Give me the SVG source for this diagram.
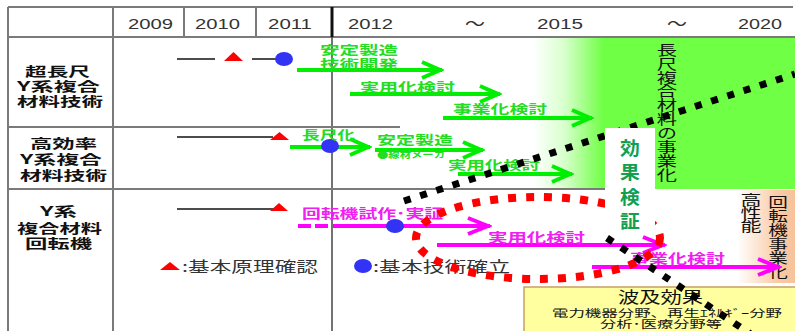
<svg xmlns="http://www.w3.org/2000/svg" width="795" height="331" viewBox="0 0 795 331">
<style>
.yr{font-family:'Liberation Sans',Arial,sans-serif;font-size:15px;fill:#333}
.jp{font-family:'Noto Sans CJK JP','Noto Sans CJK SC',sans-serif}
.lbl{font-size:13px;font-weight:bold;fill:#111}
.g{font-size:12.5px;font-weight:bold;fill:#22DD22}
.m{font-size:13px;font-weight:bold;fill:#F020F0}
.lg{font-size:15px;fill:#333}
.vt{font-size:14px;fill:#111;writing-mode:vertical-rl}
.grid{stroke:#7a7a7a;stroke-width:2;fill:none}
.blk{stroke:#111;stroke-width:1.5}
.ga{stroke:#00EE00;stroke-width:4;fill:none;marker-end:url(#ag)}
.ma{stroke:#FF00FF;stroke-width:4;fill:none}
.tri{fill:#FF0000}
.dot{fill:#3333F5}
.bdot{stroke:#000;stroke-width:7;stroke-dasharray:7 10;fill:none}
.rdot{stroke:#FF0000;stroke-width:8;stroke-dasharray:8 10;fill:none}
</style>
<defs>
<linearGradient id="gg" x1="533" y1="0" x2="795" y2="0" gradientUnits="userSpaceOnUse">
<stop offset="0" stop-color="#FFFFFF"/>
<stop offset="0.12" stop-color="#D8FFCC"/>
<stop offset="0.27" stop-color="#6FFF45"/>
<stop offset="1" stop-color="#6FFF45"/>
</linearGradient>
<linearGradient id="og" x1="737" y1="0" x2="795" y2="0" gradientUnits="userSpaceOnUse">
<stop offset="0" stop-color="#FFFFFF"/>
<stop offset="0.7" stop-color="#F9CBA6"/>
<stop offset="1" stop-color="#F7C29A"/>
</linearGradient>
<marker id="ag" markerUnits="userSpaceOnUse" viewBox="-26 -12 28 24" markerWidth="28" markerHeight="24" refX="0" refY="0" orient="auto">
<path d="M-20,-8 L-2,0 L-20,8" fill="none" stroke="#00EE00" stroke-width="4"/>
</marker>
<marker id="am" markerUnits="userSpaceOnUse" viewBox="-26 -12 28 24" markerWidth="28" markerHeight="24" refX="0" refY="0" orient="auto">
<path d="M-22,-8 L-2,0 L-22,8" fill="none" stroke="#FF00FF" stroke-width="4"/>
</marker>
</defs>
<rect width="795" height="331" fill="#FFFFFF"/>

<!-- background regions -->
<rect id="greenZone" x="533" y="38" width="262" height="151" fill="url(#gg)"/>
<rect id="orangeZone" x="737" y="190" width="58" height="93" fill="url(#og)"/>

<!-- table -->
<g id="table">
<line x1="8" y1="7" x2="793" y2="7" class="grid"/>
<line x1="8" y1="37" x2="795" y2="37" class="grid"/>
<line x1="8" y1="7" x2="8" y2="331" class="grid"/>
<line x1="113" y1="7" x2="113" y2="331" class="grid"/>
<line x1="184" y1="7" x2="184" y2="37" class="grid"/>
<line x1="256" y1="7" x2="256" y2="37" class="grid"/>
<line x1="332" y1="7" x2="332" y2="37" stroke="#111" stroke-width="3"/>
<line x1="332" y1="37" x2="332" y2="331" stroke="#444" stroke-width="1.5"/>
<line x1="8" y1="127" x2="400" y2="127" class="grid"/>
<line x1="8" y1="189" x2="606" y2="189" class="grid"/>
<text class="yr" x="128" y="29" textLength="45" lengthAdjust="spacingAndGlyphs">2009</text>
<text class="yr" x="195" y="29" textLength="45" lengthAdjust="spacingAndGlyphs">2010</text>
<text class="yr" x="268" y="29" textLength="44" lengthAdjust="spacingAndGlyphs">2011</text>
<text class="yr" x="348" y="29" textLength="45" lengthAdjust="spacingAndGlyphs">2012</text>
<text class="jp yr" x="465" y="29" textLength="20" lengthAdjust="spacingAndGlyphs">～</text>
<text class="yr" x="537" y="29" textLength="46" lengthAdjust="spacingAndGlyphs">2015</text>
<text class="jp yr" x="667" y="29" textLength="20" lengthAdjust="spacingAndGlyphs">～</text>
<text class="yr" x="738" y="29" textLength="44" lengthAdjust="spacingAndGlyphs">2020</text>
</g>

<!-- row labels -->
<g id="row1-label">
<text class="jp lbl" x="25" y="76" textLength="65" lengthAdjust="spacingAndGlyphs">超長尺</text>
<text class="jp lbl" x="17" y="91" textLength="83" lengthAdjust="spacingAndGlyphs">Y系複合</text>
<text class="jp lbl" x="17" y="106" textLength="86" lengthAdjust="spacingAndGlyphs">材料技術</text>
</g>
<g id="row2-label">
<text class="jp lbl" x="30" y="148" textLength="67" lengthAdjust="spacingAndGlyphs">高効率</text>
<text class="jp lbl" x="20" y="164" textLength="82" lengthAdjust="spacingAndGlyphs">Y系複合</text>
<text class="jp lbl" x="20" y="180" textLength="87" lengthAdjust="spacingAndGlyphs">材料技術</text>
</g>
<g id="row3-label">
<text class="jp lbl" x="40" y="216" textLength="37" lengthAdjust="spacingAndGlyphs">Y系</text>
<text class="jp lbl" x="17" y="233" textLength="85" lengthAdjust="spacingAndGlyphs">複合材料</text>
<text class="jp lbl" x="25" y="248" textLength="67" lengthAdjust="spacingAndGlyphs">回転機</text>
</g>

<!-- vertical labels -->
<g id="long-business" transform="translate(667 0) scale(1.45 1)">
<text class="jp vt" x="0" y="42.5" letter-spacing="-0.1">長尺複合材料の事業化</text>
</g>
<g id="high-perf" transform="translate(751 0) scale(1.5 1)">
<text class="jp vt" x="0" y="192.5" letter-spacing="-1">高性能</text>
</g>
<g id="rotor-business" transform="translate(778 0) scale(1.4 1)">
<text class="jp vt" x="0" y="194.5">回転機事業化</text>
</g>

<!-- connectors / timeline items -->
<g id="connectors">
<!-- row 1 -->
<line x1="177" y1="59" x2="215" y2="59" class="blk"/>
<line x1="252" y1="59" x2="280" y2="59" class="blk"/>
<line x1="297" y1="70" x2="442" y2="70" class="ga"/>
<line x1="350" y1="94" x2="500" y2="94" class="ga"/>
<line x1="443" y1="118" x2="592" y2="118" class="ga"/>
<!-- row 2 -->
<line x1="177" y1="137" x2="273" y2="137" class="blk"/>
<line x1="290" y1="147" x2="370" y2="147" class="ga"/>
<line x1="375" y1="150" x2="483" y2="150" class="ga"/>
<line x1="458" y1="174" x2="572" y2="174" class="ga"/>
<!-- row 3 -->
<line x1="177" y1="209" x2="273" y2="209" class="blk"/>
<line x1="298" y1="226" x2="311" y2="226" class="ma"/>
<line x1="315" y1="226" x2="328" y2="226" class="ma"/>
<line x1="333" y1="226" x2="490" y2="226" class="ma" marker-end="url(#am)"/>
<line x1="437" y1="245" x2="665" y2="245" class="ma" marker-end="url(#am)"/>
<line x1="592" y1="267" x2="780" y2="267" class="ma" marker-end="url(#am)"/>
</g>

<g id="milestones">
<polygon class="tri" points="224,61 233.5,52 243,61"/>
<ellipse class="dot" cx="284" cy="59" rx="9" ry="7"/>
<polygon class="tri" points="270,140 279.5,132 289,140"/>
<ellipse class="dot" cx="330" cy="146" rx="9" ry="7"/>
<polygon class="tri" points="270,211 279,203 288,211"/>
<ellipse class="dot" cx="395" cy="226" rx="9" ry="7"/>
</g>

<!-- task labels -->
<g id="row1-tasks">
<text class="jp g" x="320" y="55" textLength="78" lengthAdjust="spacingAndGlyphs">安定製造</text>
<text class="jp g" x="320" y="69" textLength="78" lengthAdjust="spacingAndGlyphs">技術開発</text>
<text class="jp g" x="360" y="92" textLength="95" lengthAdjust="spacingAndGlyphs">実用化検討</text>
<text class="jp g" x="453" y="114" textLength="94" lengthAdjust="spacingAndGlyphs">事業化検討</text>
</g>
<g id="row2-tasks">
<text class="jp g" x="302" y="140" textLength="53" lengthAdjust="spacingAndGlyphs">長尺化</text>
<text class="jp g" x="377" y="145" textLength="76" lengthAdjust="spacingAndGlyphs">安定製造</text>
<text class="jp g" x="377" y="158" textLength="68" lengthAdjust="spacingAndGlyphs" style="font-size:9px">●線材メーカ</text>
<text class="jp g" x="448" y="170" textLength="92" lengthAdjust="spacingAndGlyphs">実用化検討</text>
</g>
<g id="row3-tasks">
<text class="jp m" x="302" y="218" textLength="141" lengthAdjust="spacingAndGlyphs">回転機試作･実証</text>
<text class="jp m" x="488" y="242" textLength="97" lengthAdjust="spacingAndGlyphs">実用化検討</text>
<text class="jp m" x="630" y="263" textLength="95" lengthAdjust="spacingAndGlyphs">事業化検討</text>
</g>

<!-- legend -->
<g id="legend">
<polygon class="tri" points="160,270 170,262 180,270"/>
<text class="jp lg" x="182" y="272" textLength="136" lengthAdjust="spacingAndGlyphs">:基本原理確認</text>
<ellipse class="dot" cx="363" cy="266" rx="9" ry="7"/>
<text class="jp lg" x="373" y="272" textLength="137" lengthAdjust="spacingAndGlyphs">:基本技術確立</text>
</g>

<!-- ripple effect box -->
<g id="ripple">
<rect x="524" y="287" width="290" height="60" fill="#FFFF9F" stroke="#C8A060" stroke-width="1.5"/>
<text class="jp" x="618" y="303" font-size="16" fill="#111" textLength="85" lengthAdjust="spacingAndGlyphs">波及効果</text>
<text class="jp" x="552" y="317" font-size="10.5" fill="#111" textLength="230" lengthAdjust="spacingAndGlyphs">電力機器分野、再生ｴﾈﾙｷﾞｰ分野</text>
<text class="jp" x="600" y="328" font-size="10.5" fill="#111" textLength="122" lengthAdjust="spacingAndGlyphs">分析･医療分野等</text>
</g>

<!-- dotted boundaries -->
<g id="dotted">
<line x1="404" y1="201" x2="795" y2="74" class="bdot"/>
<ellipse cx="538" cy="238" rx="122" ry="41" class="rdot"/>
<line x1="607" y1="238" x2="752" y2="335" class="bdot"/>
</g>

<!-- effect verification -->
<g id="verify">
<rect x="605" y="128" width="50" height="105" fill="#FFFFFF"/>
<g transform="translate(630 0) scale(1.1 1)">
<text class="jp" x="0" y="139" font-size="18" font-weight="bold" fill="#10A050" letter-spacing="6.5" style="writing-mode:vertical-rl">効果検証</text>
</g>
</g>
</svg>
